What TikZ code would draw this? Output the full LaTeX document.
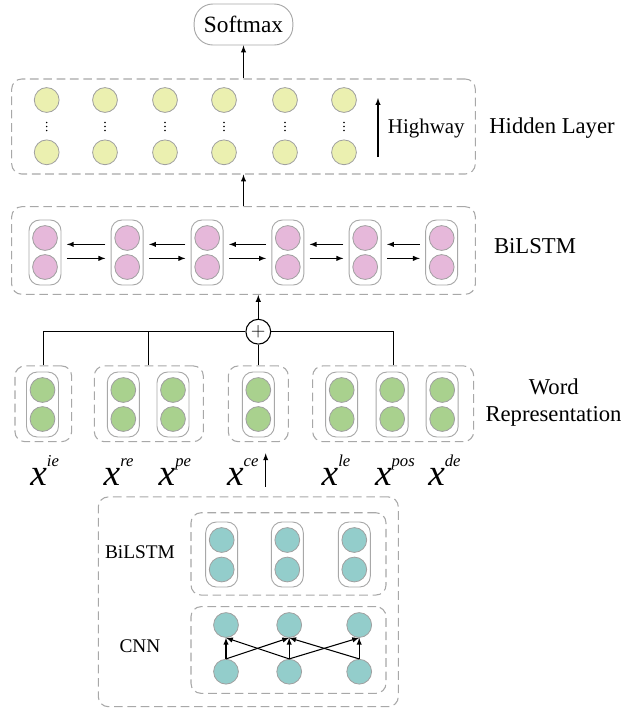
\documentclass[tikz,border=0pt]{standalone}
\usepackage{fontspec}
\setmainfont{Liberation Serif}
\newfontfamily\labfont{Liberation Serif}

\definecolor{hidfill}{HTML}{EBF0B0}
\definecolor{lstmfill}{HTML}{E6B8DA}
\definecolor{wordfill}{HTML}{A9D18E}
\definecolor{charfill}{HTML}{93CDCB}
\definecolor{cellline}{HTML}{A0A0A0}
\definecolor{boxline}{HTML}{A8A8A8}

\newcommand{\xvar}[1]{{\labfont\fontsize{28}{30}\selectfont\itshape x}\raisebox{13.7pt}{\labfont\fontsize{12.5}{14}\selectfont\itshape #1}}
\newcommand{\vdotsat}[1]{\fill (#1,122.5) circle (0.6pt) (#1,126.5) circle (0.6pt) (#1,130.5) circle (0.6pt);}

\begin{document}
\begin{tikzpicture}[x=0.75pt,y=-0.75pt,>=latex,line width=0.8pt,
  cell/.style={circle,draw=cellline,line width=0.6pt,minimum size=18.6pt,inner sep=0pt},
  ycell/.style={cell,fill=hidfill},
  pcell/.style={cell,fill=lstmfill},
  gcell/.style={cell,fill=wordfill},
  tcell/.style={cell,fill=charfill},
  pairbox/.style={draw=boxline,line width=0.7pt,rounded corners=8pt,minimum width=24pt,minimum height=48.75pt,inner sep=0pt},
  dashbox/.style={draw=boxline,line width=0.8pt,dash pattern=on 6.5pt off 3.5pt,rounded corners=7.5pt,inner sep=0pt},
  biglab/.style={anchor=base,font=\labfont\fontsize{17}{20}\selectfont},
  smalllab/.style={anchor=base,font=\labfont\fontsize{14.5}{17}\selectfont}
]
\useasboundingbox (0,0) rectangle (638,708);

% softmax and hidden layer
\node[draw=boxline,line width=0.7pt,rounded corners=14pt,minimum width=74pt,minimum height=30.75pt,font=\labfont\fontsize{17.5}{20}\selectfont] (softmax) at (243.5,24.5) {Softmax};
\node[dashbox,minimum width=347.7pt,minimum height=71.25pt] (hidden) at (243.5,126.5) {};

\node[ycell] (h1a) at (46.7,100) {};
\node[ycell] (h1b) at (46.7,152.3) {};
\node[ycell] (h2a) at (105,100) {};
\node[ycell] (h2b) at (105,152.3) {};
\node[ycell] (h3a) at (165,100) {};
\node[ycell] (h3b) at (165,152.3) {};
\node[ycell] (h4a) at (224,100) {};
\node[ycell] (h4b) at (224,152.3) {};
\node[ycell] (h5a) at (285,100) {};
\node[ycell] (h5b) at (285,152.3) {};
\node[ycell] (h6a) at (344,100) {};
\node[ycell] (h6b) at (344,152.3) {};
\vdotsat{46.7}
\vdotsat{105}
\vdotsat{165}
\vdotsat{224}
\vdotsat{285}
\vdotsat{344}

\coordinate (hwlow) at (378,157);
\coordinate (hwhigh) at (378,98);
\draw[->] (hwlow) -- (hwhigh);
\node[anchor=base,font=\labfont\fontsize{15.7}{18}\selectfont] (highway) at (426.3,133) {Highway};
\node[biglab] (hidlab) at (552,133) {Hidden Layer};

\draw[->] (hidden.north) -- (softmax.south);

% bilstm
\node[dashbox,minimum width=347.7pt,minimum height=65.7pt] (bilstm) at (243.5,250.5) {};
\node[pairbox] (p1) at (45,252.5) {};
\node[pairbox] (p2) at (127.2,252.5) {};
\node[pairbox] (p3) at (207.2,252.5) {};
\node[pairbox] (p4) at (287.8,252.5) {};
\node[pairbox] (p5) at (365.2,252.5) {};
\node[pairbox] (p6) at (441.7,252.5) {};
\node[pcell] (p1a) at (45,238) {};
\node[pcell] (p1b) at (45,267) {};
\node[pcell] (p2a) at (127.2,238) {};
\node[pcell] (p2b) at (127.2,267) {};
\node[pcell] (p3a) at (207.2,238) {};
\node[pcell] (p3b) at (207.2,267) {};
\node[pcell] (p4a) at (287.8,238) {};
\node[pcell] (p4b) at (287.8,267) {};
\node[pcell] (p5a) at (365.2,238) {};
\node[pcell] (p5b) at (365.2,267) {};
\node[pcell] (p6a) at (441.7,238) {};
\node[pcell] (p6b) at (441.7,267) {};

\draw[->] ([xshift=-4pt,yshift=6.1pt]p2.west) -- ([xshift=4pt,yshift=6.1pt]p1.east);
\draw[->] ([xshift=4pt,yshift=-4.4pt]p1.east) -- ([xshift=-4pt,yshift=-4.4pt]p2.west);
\draw[->] ([xshift=-4pt,yshift=6.1pt]p3.west) -- ([xshift=4pt,yshift=6.1pt]p2.east);
\draw[->] ([xshift=4pt,yshift=-4.4pt]p2.east) -- ([xshift=-4pt,yshift=-4.4pt]p3.west);
\draw[->] ([xshift=-4pt,yshift=6.1pt]p4.west) -- ([xshift=4pt,yshift=6.1pt]p3.east);
\draw[->] ([xshift=4pt,yshift=-4.4pt]p3.east) -- ([xshift=-4pt,yshift=-4.4pt]p4.west);
\draw[->] ([xshift=-4pt,yshift=6.1pt]p5.west) -- ([xshift=4pt,yshift=6.1pt]p4.east);
\draw[->] ([xshift=4pt,yshift=-4.4pt]p4.east) -- ([xshift=-4pt,yshift=-4.4pt]p5.west);
\draw[->] ([xshift=-4pt,yshift=6.1pt]p6.west) -- ([xshift=4pt,yshift=6.1pt]p5.east);
\draw[->] ([xshift=4pt,yshift=-4.4pt]p5.east) -- ([xshift=-4pt,yshift=-4.4pt]p6.west);

\node[biglab] (bilab) at (535,253.3) {BiLSTM};
\draw[->] (bilstm.north) -- (hidden.south);

% word representation
\node[circle,draw,line width=0.8pt,minimum size=18.6pt,inner sep=0pt,font=\fontsize{15}{15}\selectfont] (plus) at (258.3,331.7) {$+$};
\draw[->] (plus.north) -- (plus.north |- bilstm.south);

\node[dashbox,minimum width=42.5pt,minimum height=56.8pt] (g1) at (43.3,403.8) {};
\node[dashbox,minimum width=81.75pt,minimum height=56.8pt] (g2) at (148.8,403.8) {};
\node[dashbox,minimum width=45pt,minimum height=56.8pt] (g3) at (258.3,403.8) {};
\node[dashbox,minimum width=120.75pt,minimum height=56.8pt] (g4) at (393.2,403.8) {};

\node[pairbox] (wie) at (42.5,404.5) {};
\node[pairbox] (wre) at (123.3,404.5) {};
\node[pairbox] (wpe) at (173,404.5) {};
\node[pairbox] (wce) at (258.3,404.5) {};
\node[pairbox] (wle) at (341.7,404.5) {};
\node[pairbox] (wpos) at (392.2,404.5) {};
\node[pairbox] (wde) at (442.2,404.5) {};
\node[gcell] (wiea) at (42.5,390) {};
\node[gcell] (wieb) at (42.5,419) {};
\node[gcell] (wrea) at (123.3,390) {};
\node[gcell] (wreb) at (123.3,419) {};
\node[gcell] (wpea) at (173,390) {};
\node[gcell] (wpeb) at (173,419) {};
\node[gcell] (wcea) at (258.3,390) {};
\node[gcell] (wceb) at (258.3,419) {};
\node[gcell] (wlea) at (341.7,390) {};
\node[gcell] (wleb) at (341.7,419) {};
\node[gcell] (wposa) at (392.2,390) {};
\node[gcell] (wposb) at (392.2,419) {};
\node[gcell] (wdea) at (442.2,390) {};
\node[gcell] (wdeb) at (442.2,419) {};

\draw (g1.north) |- (plus.west);
\draw (g2.north) -- (g2.north |- plus.west);
\draw (g3.north) -- (plus.south);
\draw (g4.north) |- (plus.east);

\node[biglab] (wordlab) at (553.8,394) {Word};
\node[biglab] (replab) at (553.5,421.7) {Representation};

\node[anchor=base west,inner sep=0pt] (xie) at (29.8,485) {\xvar{ie}};
\node[anchor=base west,inner sep=0pt] (xre) at (103.2,485) {\xvar{re}};
\node[anchor=base west,inner sep=0pt] (xpe) at (158.2,485) {\xvar{pe}};
\node[anchor=base west,inner sep=0pt] (xce) at (226.5,485) {\xvar{ce}};
\node[anchor=base west,inner sep=0pt] (xle) at (321.2,485) {\xvar{le}};
\node[anchor=base west,inner sep=0pt] (xpos) at (374.5,485) {\xvar{pos}};
\node[anchor=base west,inner sep=0pt] (xde) at (427.8,485) {\xvar{de}};

\coordinate (charout) at (265.7,486.7);
\coordinate (charin) at (265.7,453.3);
\draw[->] (charout) -- (charin);

% character level
\node[dashbox,minimum width=225pt,minimum height=157.3pt] (charbox) at (248.3,601.8) {};
\node[dashbox,minimum width=146.25pt,minimum height=61.7pt] (charlstm) at (288.5,553.9) {};
\node[dashbox,minimum width=146.25pt,minimum height=65pt] (cnn) at (288.5,650) {};

\node[pairbox] (q1) at (221.7,554.5) {};
\node[pairbox] (q2) at (287.3,554.5) {};
\node[pairbox] (q3) at (354.3,554.5) {};
\node[tcell] (q1a) at (221.7,540) {};
\node[tcell] (q1b) at (221.7,569.5) {};
\node[tcell] (q2a) at (287.3,540) {};
\node[tcell] (q2b) at (287.3,569.5) {};
\node[tcell] (q3a) at (354.3,540) {};
\node[tcell] (q3b) at (354.3,569.5) {};

\node[tcell] (t1) at (226,625) {};
\node[tcell] (t2) at (289.2,625) {};
\node[tcell] (t3) at (359.2,625) {};
\node[tcell] (c1) at (226,671.7) {};
\node[tcell] (c2) at (289.2,671.7) {};
\node[tcell] (c3) at (359.2,671.7) {};

\draw[->] (c1.north) -- (t1.south);
\draw[->] (c2.north) -- (t2.south);
\draw[->] (c3.north) -- (t3.south);
\draw[->] (c1.north) -- (t2.south);
\draw[->] (c2.north) -- (t1.south);
\draw[->] (c2.north) -- (t3.south);
\draw[->] (c3.north) -- (t2.south);

\node[smalllab] (lstmlab) at (140,558.3) {BiLSTM};
\node[smalllab] (cnnlab) at (140,652.7) {CNN};

\end{tikzpicture}
\end{document}
